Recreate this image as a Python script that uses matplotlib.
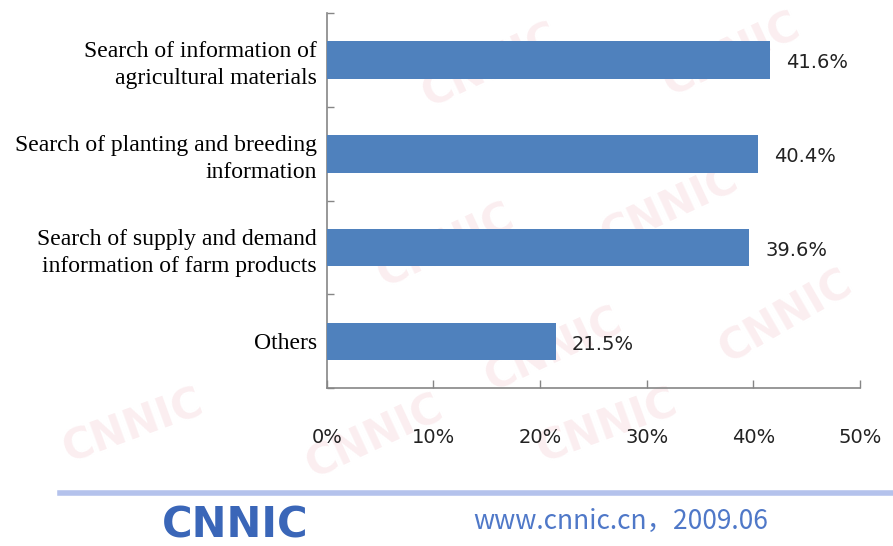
import matplotlib.pyplot as plt
from matplotlib.ticker import FixedLocator, FuncFormatter

# Usage of agricultural information services (share of rural users)
categories = [
    "Search of information of\nagricultural materials",
    "Search of planting and breeding\ninformation",
    "Search of supply and demand\ninformation of farm products",
    "Others",
]
shares = [41.6, 40.4, 39.6, 21.5]
x_ticks = [0, 10, 20, 30, 40, 50]

BAR_COLOR = "#4f81bd"
AXIS_COLOR = "#868686"
FOOTER_BLUE = "#3a66b8"

fig = plt.figure(figsize=(8.93, 5.46), dpi=100)
ax = fig.add_axes([0.366, 0.289, 0.597, 0.687])

# faint watermark behind the chart
for wx, wy, rot in [(0.15, 0.22, 20), (0.42, 0.2, 25), (0.68, 0.22, 20), (0.88, 0.42, 30),
                    (0.5, 0.55, 25), (0.75, 0.62, 25), (0.55, 0.88, 25), (0.82, 0.9, 25),
                    (0.62, 0.36, 25)]:
    fig.text(wx, wy, "CNNIC", fontsize=30, fontweight="bold", color="#fbeef0",
             rotation=rot, ha="center", va="center", zorder=-10)

positions = list(range(len(categories)))
ax.barh(positions, shares, height=0.4, color=BAR_COLOR, zorder=3)
for pos, val in zip(positions, shares):
    ax.text(val + 1.5, pos + 0.03, f"{val:.1f}%", va="center", ha="left",
            fontsize=14, color="#222222", zorder=4)

ax.set_xlim(0, 50)
ax.set_ylim(len(categories) - 0.5, -0.5)
ax.set_facecolor("none")

ax.xaxis.set_major_locator(FixedLocator(x_ticks))
ax.xaxis.set_major_formatter(FuncFormatter(lambda v, _: f"{v:.0f}%"))
ax.tick_params(axis="x", direction="in", length=6, width=1, color=AXIS_COLOR,
               pad=29, labelsize=14, labelcolor="#222222")

# category names sit between boundary ticks on the y axis
ax.set_yticks(positions)
ax.set_yticklabels(categories, family="Liberation Serif", fontsize=17, ha="right",
                   linespacing=1.35)
ax.tick_params(axis="y", which="major", length=0, pad=7)
ax.set_yticks([p - 0.5 for p in range(len(categories) + 1)], minor=True)
ax.tick_params(axis="y", which="minor", direction="in", length=5, width=1, color=AXIS_COLOR)

for side in ("top", "right"):
    ax.spines[side].set_visible(False)
for side in ("left", "bottom"):
    ax.spines[side].set_color(AXIS_COLOR)
    ax.spines[side].set_linewidth(1.2)

# footer: rule, logo and source line
fig.add_artist(plt.Line2D([0.067, 1.0], [0.097, 0.097], transform=fig.transFigure,
                          color="#b4c2ec", linewidth=4))
fig.text(0.263, 0.037, "CNNIC", fontsize=30, fontweight="bold", color=FOOTER_BLUE,
         ha="center", va="center")
fig.text(0.695, 0.045, "www.cnnic.cn，2009.06", fontsize=19, color="#4f78c8",
         family=["Liberation Sans Narrow", "Noto Sans CJK SC"], ha="center", va="center")

fig.savefig("out.png", dpi=100, facecolor="white")
